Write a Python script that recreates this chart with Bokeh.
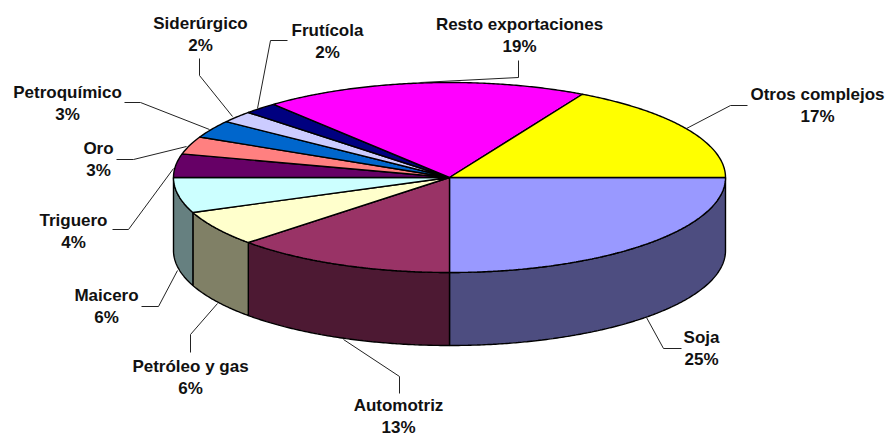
import math
from bokeh.plotting import figure, ColumnDataSource
from bokeh.models import Range1d
from bokeh.core.properties import value
from bokeh.embed import file_html
from bokeh.resources import INLINE

names = ["Soja", "Automotriz", "Petróleo y gas", "Maicero", "Triguero", "Oro",
         "Petroquímico", "Siderúrgico", "Frutícola", "Resto exportaciones", "Otros complejos"]
shares = [25, 13, 6, 6, 4, 3, 3, 2, 2, 19, 17]
top_colors = ["#9999FF", "#993366", "#FFFFCC", "#CCFFFF", "#660066", "#FF8080",
              "#0066CC", "#CCCCFF", "#000080", "#FF00FF", "#FFFF00"]
side_colors = ["#4D4D80", "#4D1933", "#808066", "#668080", "#330033", "#804040",
               "#003366", "#666680", "#000040", "#800080", "#808000"]

CX, CY, RX, RY, DEPTH = 449, 177, 276, 95, 73

label_x = [701, 398, 190, 106, 73, 98, 67, 200, 327, 519, 817]
label_y = [337, 405, 366, 295, 220, 148, 92, 23, 30, 24, 94]
LINE_GAP = 22
leaders = [
    [(681, 348), (663, 348), (646, 317)],
    [(399, 393), (399, 376), (343, 339)],
    [(190, 352), (190, 334), (217, 303)],
    [(141, 306), (158, 306), (177, 270)],
    [(112, 229), (128, 229), (173, 168)],
    [(116, 159), (133, 159), (186, 146)],
    [(124, 102), (140, 102), (209, 129)],
    [(199, 58), (199, 75), (232, 116)],
    [(287, 40), (270, 40), (257, 108)],
    [(518, 60), (518, 77), (420, 82)],
    [(747, 105), (730, 105), (686, 128)],
]

p = figure(width=887, height=436, output_backend="svg", toolbar_location=None,
           x_range=Range1d(0, 887), y_range=Range1d(436, 0), min_border=0)
p.axis.visible = False
p.grid.visible = False
p.outline_line_color = None
p.background_fill_color = "white"


def arc(a0, a1):
    n = max(2, int(abs(a1 - a0) * 120))
    return [a0 + (a1 - a0) * i / n for i in range(n + 1)]


total = sum(shares)
cum = 0
top_x, top_y, side_x, side_y, side_c = [], [], [], [], []
for s, sc in zip(shares, side_colors):
    a0 = 2 * math.pi * cum / total
    cum += s
    a1 = 2 * math.pi * cum / total
    pts = arc(a0, a1)
    top_x.append([CX] + [CX + RX * math.cos(a) for a in pts])
    top_y.append([CY] + [CY + RY * math.sin(a) for a in pts])
    # visible wall: front half of the ellipse only
    f0, f1 = max(a0, 0), min(a1, math.pi)
    if f1 > f0:
        fp = arc(f0, f1)
        ox = [CX + RX * math.cos(a) for a in fp]
        oy = [CY + RY * math.sin(a) for a in fp]
        side_x.append(ox + ox[::-1])
        side_y.append(oy + [y + DEPTH for y in oy[::-1]])
        side_c.append(sc)

p.patches(side_x, side_y, fill_color=side_c, line_color="black", line_width=1.4)
p.patches("x", "y", source=ColumnDataSource(dict(x=top_x, y=top_y, c=top_colors)),
          fill_color="c", line_color="black", line_width=1.4)
p.multi_line([[q[0] for q in l] for l in leaders], [[q[1] for q in l] for l in leaders],
             line_color="#222222", line_width=1)

txt = dict(text_font=value("Liberation Sans"), text_font_style="bold", text_font_size="17px",
           text_align="center", text_baseline="middle", text_color="#111111")
p.text(label_x, label_y, text=names, **txt)
p.text(label_x, [y + LINE_GAP for y in label_y], text=[f"{s}%" for s in shares], **txt)

open("out.html", "w").write(file_html(p, INLINE))
